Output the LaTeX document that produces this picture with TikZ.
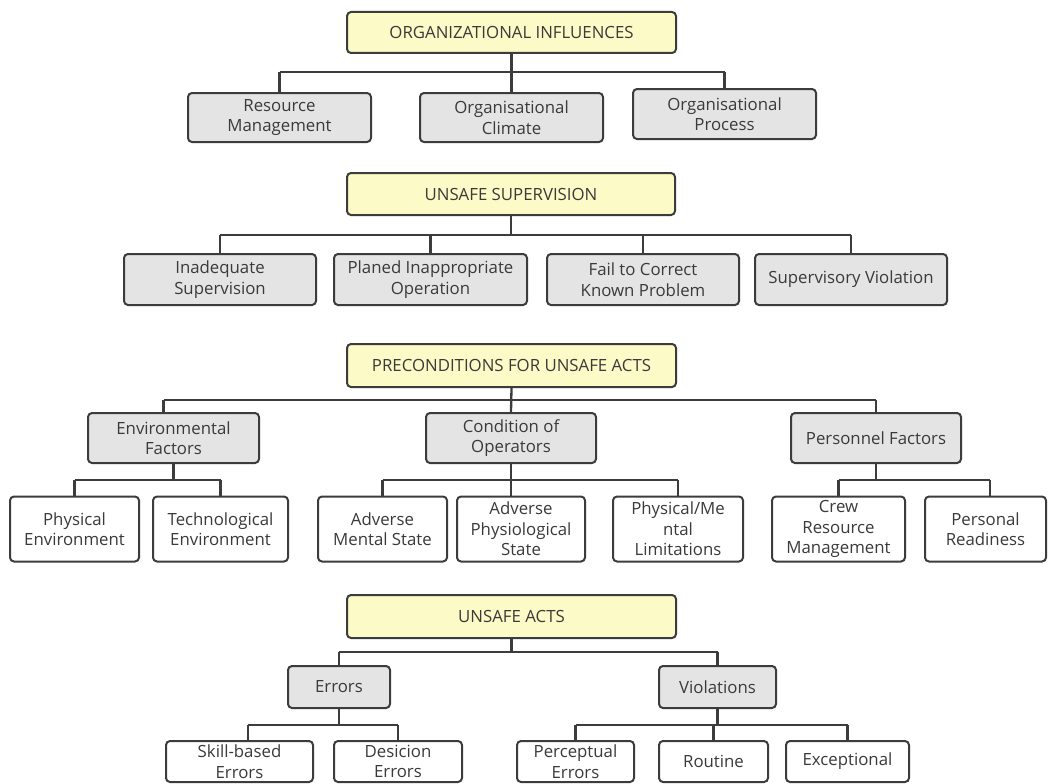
\documentclass[tikz,border=0pt]{standalone}
\usepackage{fontspec}
\setmainfont{Open Sans}
\definecolor{edge}{HTML}{3C3C3C}
\definecolor{txt}{HTML}{3A3A3A}
\definecolor{yel}{HTML}{FCFAC6}
\definecolor{gry}{HTML}{E4E4E4}
\tikzset{
  box/.style={draw=edge, line width=2pt, rounded corners=4pt, inner sep=0pt,
    align=center, text=txt, font=\fontsize{16.8}{20.5}\selectfont},
  topbox/.style={box, fill=yel},
  midbox/.style={box, fill=gry},
  leafbox/.style={box, fill=white},
  conn/.style={draw=edge, line width=2.3pt}
}
\begin{document}
\begin{tikzpicture}[x=1pt,y=-1pt]
\useasboundingbox (0,0) rectangle (1049,784);
\fill[white] (0,0) rectangle (1049,784);
% Level 1
\node[topbox, minimum width=329pt, minimum height=41pt] (oi) at (511.5,32.5) {ORGANIZATIONAL INFLUENCES};
\node[midbox, minimum width=183pt, minimum height=49pt] (rm) at (279.5,117.5) {Resource\\Management};
\node[midbox, minimum width=183pt, minimum height=49pt] (oc) at (511.5,117.5) {Organisational\\Climate};
\node[midbox, minimum width=183pt, minimum height=50pt] (op) at (724.5,114) {Organisational\\Process};
\coordinate (b1) at (0,72);
% Level 2
\node[topbox, minimum width=328pt, minimum height=42pt] (us) at (511,194) {UNSAFE SUPERVISION};
\node[midbox, minimum width=192pt, minimum height=51pt] (is) at (220,279.5) {Inadequate\\Supervision};
\node[midbox, minimum width=193pt, minimum height=51pt] (pio) at (430.5,279.5) {Planed Inappropriate\\Operation};
\node[midbox, minimum width=192pt, minimum height=51pt] (fck) at (643,279.5) {Fail to Correct\\Known Problem};
\node[midbox, minimum width=192pt, minimum height=51pt] (sv) at (851,279.5) {Supervisory Violation};
\coordinate (b2) at (0,235);
% Level 3
\node[topbox, minimum width=329pt, minimum height=43pt] (pua) at (511.5,365.5) {PRECONDITIONS FOR UNSAFE ACTS};
\node[midbox, minimum width=171pt, minimum height=50pt] (ef) at (173.5,438) {Environmental\\Factors};
\node[midbox, minimum width=170pt, minimum height=50pt] (co) at (511,438) {Condition of\\Operators};
\node[midbox, minimum width=170pt, minimum height=50pt] (pf) at (876,438) {Personnel Factors};
\coordinate (b3) at (0,400);
\node[leafbox, minimum width=129pt, minimum height=65pt] (pe) at (74.5,529) {Physical\\Environment};
\node[leafbox, minimum width=135pt, minimum height=65pt] (te) at (220.5,529) {Technological\\Environment};
\node[leafbox, minimum width=129pt, minimum height=65pt] (ams) at (382.5,529) {Adverse\\Mental State};
\node[leafbox, minimum width=128pt, minimum height=65pt] (aps) at (521,529) {Adverse\\Physiological\\State};
\node[leafbox, minimum width=130pt, minimum height=65pt] (pml) at (678,529) {Physical/Me\\ntal\\Limitations};
\node[leafbox, minimum width=133pt, minimum height=65pt] (crm) at (838.5,529) {Crew\\Resource\\Management};
\node[leafbox, minimum width=121pt, minimum height=65pt] (pr) at (985.5,529) {Personal\\Readiness};
\coordinate (b3a) at (0,480);
% Level 4
\node[topbox, minimum width=329pt, minimum height=43pt] (ua) at (511.5,616.5) {UNSAFE ACTS};
\node[midbox, minimum width=102pt, minimum height=42pt] (er) at (339,687) {Errors};
\node[midbox, minimum width=117pt, minimum height=42pt] (vi) at (717.5,687) {Violations};
\coordinate (b4) at (0,652);
\node[leafbox, minimum width=147pt, minimum height=41pt] (sbe) at (239.5,761.5) {Skill-based\\Errors};
\node[leafbox, minimum width=128pt, minimum height=41pt] (de) at (398,761.5) {Desicion\\Errors};
\node[leafbox, minimum width=117pt, minimum height=41pt] (pce) at (575.5,761.5) {Perceptual\\Errors};
\node[leafbox, minimum width=109pt, minimum height=41pt] (ro) at (713.5,761.5) {Routine};
\node[leafbox, minimum width=123pt, minimum height=41pt] (ex) at (847.5,761.5) {Exceptional};
\coordinate (b4a) at (0,725);
% Connectors level 1
\draw[conn] (oi.south) -- (oi.south |- b1);
\draw[conn] (rm.north |- b1) -- (op.north |- b1);
\draw[conn] (rm.north) -- (rm.north |- b1);
\draw[conn] (oc.north) -- (oc.north |- b1);
\draw[conn] (op.north) -- (op.north |- b1);
% Connectors level 2
\draw[conn] (us.south) -- (us.south |- b2);
\draw[conn] (is.north |- b2) -- (sv.north |- b2);
\draw[conn] (is.north) -- (is.north |- b2);
\draw[conn] (pio.north) -- (pio.north |- b2);
\draw[conn] (fck.north) -- (fck.north |- b2);
\draw[conn] (sv.north) -- (sv.north |- b2);
% Connectors level 3
\coordinate (efn) at ([xshift=-10pt]ef.north);
\draw[conn] (pua.south) -- (co.north);
\draw[conn] (efn |- b3) -- (pf.north |- b3);
\draw[conn] (efn) -- (efn |- b3);
\draw[conn] (pf.north) -- (pf.north |- b3);
\draw[conn] (ef.south) -- (ef.south |- b3a);
\draw[conn] (pe.north |- b3a) -- (te.north |- b3a);
\draw[conn] (pe.north) -- (pe.north |- b3a);
\draw[conn] (te.north) -- (te.north |- b3a);
\draw[conn] (co.south) -- (co.south |- aps.north);
\draw[conn] (ams.north |- b3a) -- (pml.north |- b3a);
\draw[conn] (ams.north) -- (ams.north |- b3a);
\draw[conn] (pml.north) -- (pml.north |- b3a);
\draw[conn] (pf.south) -- (pf.south |- b3a);
\draw[conn] (crm.north |- b3a) -- ([xshift=4.5pt]pr.north |- b3a);
\draw[conn] (crm.north) -- (crm.north |- b3a);
\draw[conn] ([xshift=4.5pt]pr.north) -- ([xshift=4.5pt]pr.north |- b3a);
% Connectors level 4
\draw[conn] (ua.south) -- (ua.south |- b4);
\draw[conn] (er.north |- b4) -- (vi.north |- b4);
\draw[conn] (er.north) -- (er.north |- b4);
\draw[conn] (vi.north) -- (vi.north |- b4);
\coordinate (sbn) at ([xshift=8.5pt]sbe.north);
\draw[conn] (er.south) -- (er.south |- b4a);
\draw[conn] (sbn |- b4a) -- (de.north |- b4a);
\draw[conn] (sbn) -- (sbn |- b4a);
\draw[conn] (de.north) -- (de.north |- b4a);
\draw[conn] (vi.south) -- (vi.south |- b4a);
\draw[conn] (pce.north |- b4a) -- (ex.north |- b4a);
\draw[conn] (pce.north) -- (pce.north |- b4a);
\draw[conn] (ro.north) -- (ro.north |- b4a);
\draw[conn] (ex.north) -- (ex.north |- b4a);
\end{tikzpicture}
\end{document}
